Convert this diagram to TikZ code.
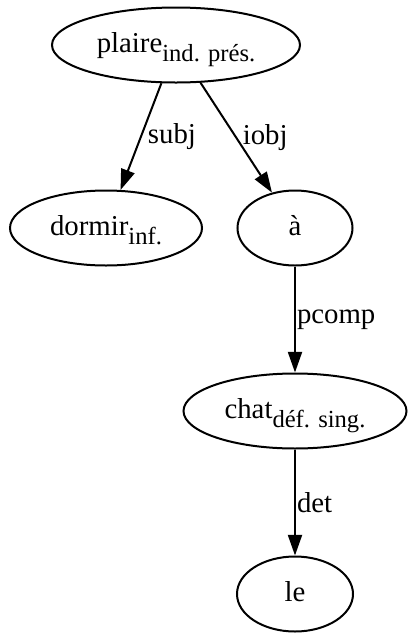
\documentclass[tikz,border=0pt]{standalone}
\usepackage{fontspec}
\setmainfont{Liberation Serif}
\usetikzlibrary{arrows.meta,shapes.geometric}
\newcommand{\gsub}[1]{\raisebox{-4.5pt}[0pt][0pt]{\fontsize{12.3}{14}\selectfont #1}}
\begin{document}
\begin{tikzpicture}[x=0.5pt,y=-0.5pt,
  every node/.style={font=\fontsize{14.4}{17}\selectfont},
  nd/.style={draw, ellipse, line width=1pt, inner sep=0pt, minimum height=37.5pt,
             text height=10pt, text depth=3pt},
  arr/.style={line width=1pt, -{Triangle[length=10.3pt,width=7pt]}},
  lbl/.style={anchor=west, inner sep=0pt}]
\useasboundingbox (0,0) rectangle (408,633);
\node[nd, minimum width=124pt] (plaire) at (176,45) {plaire\gsub{ind. prés.}};
\node[nd, minimum width=96pt] (dormir) at (106,228) {dormir\gsub{inf.}};
\node[nd, minimum width=57.5pt] (a) at (295,228) {à};
\node[nd, minimum width=111.5pt] (chat) at (295,411) {chat\gsub{déf. sing.}};
\node[nd, minimum width=58pt] (le) at (295,594) {le};
\draw[arr] (plaire) -- node[lbl, midway, xshift=3pt] {subj} (dormir);
\draw[arr] (plaire) -- node[lbl, midway, xshift=2.75pt] {iobj} (a);
\draw[arr] (a) -- node[lbl, midway, xshift=0.5pt] {pcomp} (chat);
\draw[arr] (chat) -- node[lbl, midway, xshift=0.5pt] {det} (le);
\end{tikzpicture}
\end{document}
